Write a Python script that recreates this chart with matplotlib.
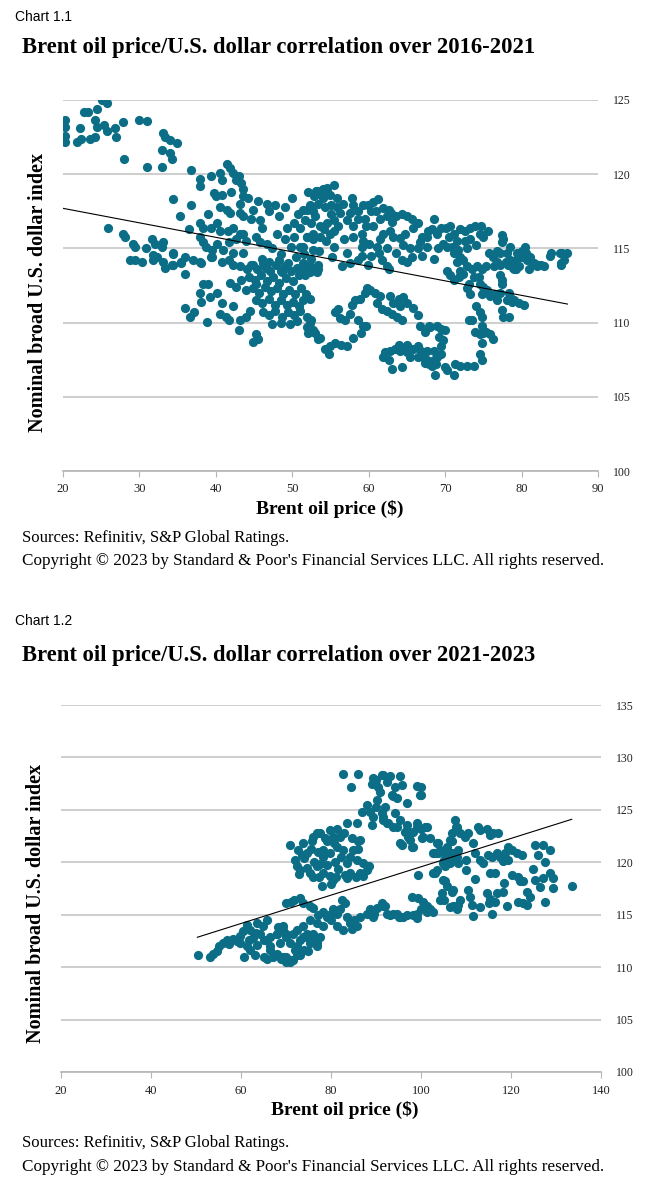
import matplotlib.pyplot as plt
import numpy as np

# ---- Chart 1.1 : Brent ($) vs nominal broad U.S. dollar index, 2016-2021 ----
c1_top_left = [(20.3, 123.65), (20.3, 123.2), (20.3, 122.6), (20.3, 122.2), (21.8, 122.2), (22.2, 123.1),
               (22.4, 122.4), (22.7, 124.2), (23.3, 124.2), (23.5, 122.4), (24.2, 122.5), (24.4, 124.4),
               (24.2, 123.65), (24.4, 123.2), (25.1, 125.0), (25.7, 124.8), (25.3, 123.3), (25.7, 122.9),
               (26.8, 123.1), (26.9, 122.5), (27.9, 123.5), (28.0, 121.0), (29.9, 123.65), (31.0, 123.6),
               (31.0, 120.5), (33.1, 122.75), (33.3, 122.5), (34.0, 122.3), (34.9, 122.1), (32.9, 121.6),
               (34.0, 121.4), (34.2, 121.0), (33.0, 120.5), (36.7, 120.3)]
c1_left_mid = [(25.9, 116.35), (27.9, 116.0), (28.1, 115.8), (29.2, 115.3), (29.4, 115.1), (28.8, 114.2),
               (29.4, 114.2), (30.3, 114.1), (31.6, 115.6), (32.0, 115.3), (33.1, 115.45), (33.0, 115.1),
               (31.8, 114.55), (32.3, 114.4), (33.1, 114.1), (33.3, 113.65), (34.4, 114.7), (35.5, 114.1),
               (35.9, 114.4), (37.0, 114.2), (37.9, 114.1), (34.4, 113.9), (36.0, 113.3), (34.4, 118.3),
               (36.7, 117.9), (35.3, 117.2), (36.5, 116.3), (31.8, 114.2), (34.2, 113.9), (35.5, 114.0),
               (38.1, 114.0), (39.4, 114.4), (34.4, 114.6), (30.8, 115.0)]
c1_upper_mid = [(37.9, 119.7), (37.9, 119.2), (39.4, 119.9), (40.5, 120.05), (41.4, 120.7), (41.85, 120.4),
                (42.2, 120.1), (42.7, 119.6), (43.0, 119.9), (43.3, 119.4), (43.5, 119.0), (39.7, 118.7),
                (40.8, 118.6), (40.75, 119.6), (40.5, 117.8), (41.4, 117.6), (41.85, 117.4), (43.2, 118.0),
                (44.2, 118.4), (43.2, 117.4), (43.5, 117.2), (44.9, 117.6), (45.8, 116.9), (46.65, 118.0),
                (47.7, 117.9), (47.0, 117.5), (49.05, 117.8), (37.9, 116.7), (38.3, 116.4), (39.4, 116.4),
                (40.1, 116.7), (40.5, 116.2), (41.6, 116.2), (42.2, 116.4), (43.2, 116.0), (42.7, 115.6),
                (43.5, 116.0), (45.3, 115.8), (45.8, 115.4), (46.65, 115.3), (47.3, 115.0), (40.0, 118.5),
                (42.0, 118.8), (43.5, 118.5), (44.6, 117.0), (45.5, 118.2), (48.2, 117.2), (46.0, 116.4),
                (44.0, 115.5), (48.0, 116.0), (39.0, 117.3)]
c1_lower_mid = [(37.9, 115.8), (38.3, 115.4), (38.75, 115.1), (39.5, 114.9), (40.2, 115.3), (41.0, 114.9),
                (41.7, 115.4), (42.2, 114.7), (43.5, 114.7), (39.5, 114.4), (40.8, 114.1), (41.7, 114.2),
                (42.2, 113.9), (43.2, 113.8), (44.1, 113.6), (44.9, 113.9), (46.2, 114.0), (46.6, 113.7),
                (36.0, 111.0), (36.6, 110.4), (37.2, 110.7), (38.8, 110.05), (37.9, 112.0), (39.0, 112.6),
                (39.2, 111.7), (40.2, 112.0), (40.5, 110.6), (41.3, 110.4), (41.7, 110.2), (41.85, 112.65),
                (42.3, 111.1), (43.2, 110.2), (43.0, 109.5), (44.0, 110.4), (44.5, 110.8), (45.3, 109.2),
                (45.5, 108.9), (44.9, 108.7), (44.0, 112.2), (45.3, 112.6), (38.3, 112.6), (38.0, 111.4),
                (40.8, 111.3), (43.3, 112.9), (42.6, 112.4)]
c1_core = [(44.6, 113.9), (45.4, 113.6), (46.3, 113.8), (47.1, 113.5), (47.9, 113.9), (48.6, 113.4),
           (44.3, 113.1), (45.1, 112.9), (45.9, 113.2), (46.7, 112.8), (47.5, 113.1), (48.3, 112.7),
           (49.2, 113.0), (50.1, 112.8), (50.9, 113.2), (44.9, 112.3), (45.6, 112.0), (46.4, 112.4),
           (47.2, 112.1), (48.0, 112.3), (48.8, 111.9), (49.6, 112.2), (50.4, 111.9), (51.2, 112.3),
           (51.8, 111.9), (45.3, 111.5), (46.1, 111.3), (46.9, 111.6), (47.7, 111.2), (48.5, 111.5),
           (49.3, 111.2), (50.1, 111.4), (50.9, 111.1), (46.2, 110.7), (47.0, 110.5), (47.8, 110.8),
           (48.6, 110.4), (49.4, 110.7), (50.2, 110.5), (51.0, 110.8), (47.4, 109.9), (48.5, 110.0),
           (49.7, 109.9), (50.6, 110.1), (46.0, 114.3), (47.0, 114.1), (48.2, 114.2), (49.0, 113.8),
           (49.8, 113.5), (50.6, 113.7), (51.4, 113.5), (52.2, 113.8)]
c1_centre = [(49.3, 116.4), (50.2, 116.7), (51.0, 116.4), (51.4, 117.6), (52.3, 117.9), (52.1, 118.8),
             (52.9, 118.5), (53.1, 118.9), (53.8, 118.7), (54.0, 119.0), (54.6, 118.8), (52.75, 116.0),
             (50.2, 115.8), (49.8, 115.1), (51.0, 115.1), (51.9, 115.8), (48.5, 114.6), (49.5, 114.0),
             (50.5, 114.4), (51.5, 114.6), (52.5, 114.3), (53.5, 114.8), (54.4, 115.5), (49.0, 115.6),
             (53.0, 117.2), (54.2, 116.3), (55.0, 117.3), (56.6, 118.0), (48.5, 113.5), (50.8, 117.3),
             (50.0, 118.4), (55.4, 116.2), (51.4, 114.0), (52.3, 113.4), (53.0, 113.7), (53.4, 113.6)]
c1_upper_band = [(53.2, 118.9), (54.5, 119.1), (55.4, 119.3), (54.9, 118.6), (54.0, 118.4), (53.0, 118.6),
                 (53.4, 118.0), (54.3, 117.8), (55.1, 117.9), (55.8, 118.4), (55.8, 117.8), (51.9, 117.6),
                 (52.75, 117.5), (51.7, 116.9), (52.5, 116.7), (53.6, 116.5), (54.5, 116.7), (55.4, 116.9),
                 (56.2, 117.4), (56.0, 116.5), (54.9, 116.0), (53.6, 115.8), (52.75, 115.6), (51.9, 115.8),
                 (51.4, 115.1), (52.75, 114.9), (53.4, 113.9), (52.3, 113.8), (51.7, 113.2), (53.2, 113.4),
                 (55.4, 115.1), (55.2, 114.4), (57.1, 114.7), (57.75, 118.4), (58.0, 117.9), (58.6, 117.5),
                 (59.3, 117.9), (59.9, 117.9), (60.6, 118.15), (61.2, 118.3), (60.3, 117.5), (60.9, 117.5),
                 (57.55, 117.4), (57.1, 116.9), (58.0, 116.5), (58.6, 117.0), (59.5, 117.0), (59.7, 116.5),
                 (59.1, 116.0), (58.0, 115.8), (59.3, 115.5), (60.6, 116.5), (61.5, 117.0), (61.9, 117.7),
                 (62.6, 117.6), (62.4, 117.2), (62.95, 117.4), (63.6, 117.2), (64.3, 117.3), (65.0, 117.2),
                 (65.6, 117.0), (66.45, 116.7), (65.8, 116.4), (66.95, 115.8), (66.7, 115.4), (66.45, 115.0),
                 (65.4, 115.0), (64.5, 115.2), (64.1, 115.7), (63.2, 115.8), (62.8, 116.2), (61.9, 116.0),
                 (61.5, 115.6), (61.1, 115.1), (61.3, 114.7), (61.75, 114.2), (62.35, 113.8), (62.6, 113.6),
                 (60.3, 114.5), (59.9, 113.9), (59.1, 114.5), (58.6, 114.2), (59.1, 115.1), (62.4, 115.0),
                 (63.6, 114.7), (64.3, 114.2), (65.0, 114.1), (65.6, 114.4), (67.0, 114.5), (67.6, 115.1),
                 (67.6, 115.8), (67.8, 116.2), (68.3, 116.3), (68.5, 117.0), (69.0, 116.0), (69.5, 116.4),
                 (70.1, 116.4), (70.7, 116.5), (71.2, 116.0), (70.5, 115.8), (69.75, 115.3), (69.1, 115.0),
                 (68.5, 114.3), (70.2, 115.1), (70.85, 115.1), (71.5, 115.5), (71.9, 116.3), (72.6, 116.2),
                 (73.3, 116.4), (73.9, 116.5), (74.75, 116.5), (75.6, 116.2), (74.5, 116.0), (75.0, 115.8),
                 (74.1, 115.2), (73.3, 115.6), (72.6, 115.5), (71.7, 114.9), (71.1, 114.7), (72.0, 114.4),
                 (71.5, 114.1), (72.4, 114.2), (72.8, 115.0), (56.8, 115.6), (57.6, 114.0), (63.0, 116.8),
                 (64.8, 116.0), (60.0, 115.3), (56.5, 113.8)]
c1_right = [(75.7, 114.7), (76.2, 114.4), (76.8, 114.8), (77.2, 114.7), (77.4, 115.9), (77.6, 115.6),
            (77.4, 115.4), (78.1, 114.7), (78.5, 115.1), (77.9, 114.1), (77.2, 113.9), (78.25, 113.9),
            (78.9, 113.7), (79.3, 114.2), (80.0, 114.4), (80.4, 115.1), (80.6, 114.7), (81.1, 114.2),
            (81.6, 114.0), (82.0, 113.8), (82.5, 113.9), (82.9, 113.8), (81.0, 113.6), (79.3, 113.6),
            (83.9, 114.7), (85.0, 114.7), (85.9, 114.7), (85.2, 114.0), (70.2, 113.5), (70.6, 113.2),
            (71.1, 112.9), (71.8, 113.1), (72.0, 113.5), (72.4, 113.3), (72.8, 113.8), (73.5, 113.6),
            (74.2, 113.8), (73.75, 113.1), (74.4, 113.1), (74.8, 113.6), (75.4, 113.8), (74.6, 112.6),
            (75.0, 112.4), (75.5, 112.2), (74.8, 111.9), (75.9, 111.8), (76.4, 111.9), (76.8, 111.5),
            (77.2, 113.2), (77.4, 112.9), (77.4, 112.6), (77.2, 112.0), (76.4, 113.8), (76.8, 114.1),
            (78.1, 114.0), (78.5, 114.2), (78.3, 112.0), (78.5, 111.7), (79.0, 111.5), (78.1, 111.5),
            (78.7, 111.4), (77.4, 110.85), (77.6, 110.4), (78.3, 110.4), (79.7, 111.3), (80.3, 111.2),
            (79.0, 113.6), (79.7, 113.8), (79.4, 114.7), (80.1, 114.8), (80.7, 114.2), (81.1, 114.4),
            (82.2, 113.9), (83.7, 114.5), (85.3, 114.7), (85.5, 114.25), (85.1, 113.9)]
c1_lower = [(51.4, 111.5), (51.9, 110.4), (52.3, 110.0), (52.75, 109.5), (53.4, 108.9), (52.3, 111.6),
            (52.1, 109.3), (51.9, 109.7), (52.4, 110.2), (53.0, 109.3), (53.6, 108.95), (54.3, 108.2),
            (54.8, 107.9), (55.6, 110.7), (56.2, 110.3), (56.9, 110.2), (57.55, 110.6), (57.8, 111.2),
            (58.2, 111.5), (58.8, 111.6), (58.6, 110.2), (59.3, 109.8), (59.7, 109.8), (59.0, 109.3),
            (58.0, 108.95), (57.1, 108.4), (56.4, 108.5), (55.6, 108.6), (54.9, 108.4), (54.5, 108.2),
            (59.5, 112.0), (59.8, 112.3), (56.0, 110.9), (60.2, 112.2), (60.8, 112.0), (61.5, 111.8),
            (61.1, 111.3), (61.75, 110.9), (62.4, 110.8), (63.0, 110.6), (63.7, 110.4), (62.8, 111.8),
            (63.2, 111.3), (63.9, 111.6), (64.5, 111.75), (64.95, 111.3), (64.1, 111.1), (64.3, 110.2),
            (65.8, 111.0), (66.45, 110.5), (66.7, 109.8), (67.4, 109.4), (67.9, 109.8), (68.0, 109.7),
            (68.9, 109.8), (69.4, 109.6), (70.0, 109.5), (69.2, 109.0), (69.7, 108.8), (62.1, 108.0),
            (61.9, 107.7), (62.6, 107.5), (63.0, 106.9), (64.3, 107.0), (62.8, 108.1), (63.4, 108.2),
            (63.9, 108.5), (64.1, 108.1), (64.5, 108.3), (65.0, 108.5), (64.95, 108.0), (65.4, 107.7),
            (65.8, 108.2), (66.4, 108.4), (66.8, 108.1), (66.5, 107.7), (67.1, 107.7), (67.6, 107.5),
            (67.4, 107.3), (67.9, 107.2), (68.3, 107.1), (68.8, 107.2), (68.6, 107.5), (69.0, 107.7),
            (69.5, 107.9), (68.5, 108.1), (67.6, 108.1), (69.5, 108.4), (68.7, 106.5), (70.0, 107.0),
            (70.2, 106.8), (71.1, 106.5), (71.3, 107.2), (72.0, 107.1), (72.9, 107.1), (73.75, 107.1),
            (74.8, 107.5), (74.6, 107.9), (74.8, 108.6), (74.6, 109.2), (73.9, 109.4), (74.9, 109.3),
            (75.4, 109.4), (75.9, 109.2), (76.2, 108.9), (74.8, 109.8), (74.8, 110.4), (74.6, 110.7),
            (74.1, 111.1), (73.5, 110.2), (73.1, 110.2), (73.3, 111.9), (72.9, 112.3), (73.1, 112.6)]
c1_trend_x = [20, 86]
c1_trend_y = [117.7, 111.25]

# ---- Chart 1.2 : 2021-2023 ----
c2_low = [(50.4, 111.2), (53.2, 111.0), (53.8, 111.3), (54.6, 111.5), (55.2, 112.0), (56.0, 112.3),
          (56.8, 112.6), (57.4, 112.2), (58.2, 112.7), (59.0, 112.5), (59.8, 113.0), (60.5, 113.4),
          (61.3, 114.0), (62.0, 113.5), (63.5, 114.2), (63.4, 113.3), (64.2, 113.2), (65.7, 114.5),
          (65.3, 112.6), (66.4, 112.0), (65.0, 111.0), (67.2, 111.0), (67.9, 113.2), (68.3, 113.8),
          (69.4, 113.9), (69.9, 113.2), (70.9, 112.3), (70.1, 111.0), (70.9, 110.5), (71.5, 110.7),
          (73.1, 111.2), (73.9, 111.6), (72.4, 112.0), (73.8, 112.9), (74.7, 113.2), (76.1, 112.6),
          (76.8, 112.3), (77.6, 112.9), (78.3, 113.9), (59.8, 112.3), (61.3, 112.0), (62.0, 111.6),
          (63.5, 112.1), (65.0, 112.6), (66.4, 112.9), (66.4, 111.6), (65.7, 110.8), (67.9, 111.3),
          (69.4, 111.0), (70.1, 110.5), (71.3, 110.7), (72.4, 111.2), (68.7, 112.3), (70.1, 112.9),
          (71.6, 113.2), (73.1, 112.6), (74.6, 112.9), (76.1, 113.2), (75.3, 112.3), (76.8, 112.0),
          (73.8, 113.9), (72.4, 113.55), (75.3, 114.5), (76.8, 114.2), (69.4, 113.55), (67.9, 113.2),
          (64.9, 113.9), (62.6, 112.8), (68.9, 110.8), (71.9, 111.6), (74.8, 111.5), (63.0, 111.2),
          (60.6, 111.0), (61.8, 112.6)]
c2_rise = [(70.1, 116.1), (71.2, 116.25), (73.1, 116.6), (73.8, 116.1), (75.3, 115.8), (76.1, 115.6),
           (78.3, 115.3), (79.0, 114.8), (80.5, 115.5), (81.3, 115.1), (82.4, 116.4), (83.1, 116.1),
           (82.0, 115.5), (83.5, 114.8), (84.2, 114.2), (85.7, 113.9), (82.7, 113.55), (81.3, 113.9),
           (86.4, 114.8), (87.9, 115.1), (89.4, 114.8), (90.2, 115.6), (91.3, 116.1), (92.0, 115.8),
           (92.4, 115.1), (93.1, 115.0), (88.7, 115.5), (89.5, 115.1), (91.6, 115.8), (95.0, 114.8),
           (94.6, 115.1), (96.1, 114.8), (98.3, 115.0), (99.0, 115.1), (95.3, 114.8), (96.8, 115.0),
           (99.0, 114.7), (93.85, 115.1), (85.0, 114.5), (80.0, 114.5), (84.6, 113.6), (71.8, 116.4),
           (79.6, 115.0), (77.2, 115.0)]
c2_cluster = [(70.9, 121.65), (72.0, 120.2), (72.7, 121.2), (73.8, 121.8), (74.6, 120.9), (76.1, 122.4),
              (76.8, 122.8), (77.6, 122.8), (79.8, 123.1), (80.5, 122.4), (82.0, 122.4), (83.5, 123.7),
              (85.7, 123.7), (86.1, 122.0), (72.4, 119.6), (73.1, 119.3), (75.3, 119.0), (76.8, 119.6),
              (78.3, 119.0), (80.5, 118.3), (81.1, 118.6), (84.2, 119.0), (85.6, 118.6), (87.9, 119.3),
              (78.3, 121.2), (79.8, 120.9), (81.3, 121.5), (82.7, 121.2), (84.2, 120.5), (85.7, 120.2),
              (87.2, 119.9), (83.5, 119.9), (78.3, 120.5), (74.0, 120.4), (75.5, 121.3), (77.0, 121.0),
              (76.2, 120.0), (79.0, 119.7), (80.8, 120.0), (82.3, 120.5), (81.5, 119.4), (83.0, 118.8),
              (77.6, 119.8), (73.5, 120.7), (75.8, 122.0), (79.2, 122.0), (84.8, 121.2), (86.5, 119.0),
              (88.5, 119.6), (82.9, 122.8), (80.6, 121.8), (77.3, 118.6), (79.8, 118.7), (74.6, 119.5),
              (72.8, 118.9), (86.0, 121.3), (84.6, 122.3), (81.4, 123.2), (78.6, 122.3), (76.0, 118.6),
              (80.0, 117.9), (78.0, 117.7), (83.5, 118.5), (87.0, 118.7)]
c2_peak = [(82.6, 128.4), (86.1, 128.4), (84.4, 127.2), (89.4, 128.0), (91.3, 128.3), (93.1, 128.2),
           (95.3, 128.2), (95.7, 127.4), (94.2, 127.2), (92.4, 127.7), (90.5, 127.2), (89.2, 127.5),
           (90.9, 126.7), (93.5, 126.4), (94.6, 126.1), (99.0, 127.3), (100.0, 127.2), (100.0, 126.4),
           (96.8, 125.7), (90.2, 125.9), (89.9, 125.3), (88.7, 124.8), (86.8, 124.8), (89.4, 124.35),
           (91.3, 124.7), (91.6, 124.0), (92.7, 123.7), (93.85, 123.4), (94.2, 124.7), (95.3, 124.0),
           (96.8, 123.6), (96.4, 122.9), (97.2, 122.4), (98.3, 122.9), (99.0, 123.4), (100.9, 123.4),
           (100.2, 122.3), (102.0, 122.3), (95.7, 121.65), (97.9, 121.5), (86.4, 122.1), (91.6, 128.3),
           (93.85, 126.3), (99.8, 126.4), (91.6, 124.35), (92.4, 123.7), (94.6, 123.4), (95.3, 121.8),
           (96.8, 123.1), (97.6, 122.1), (98.3, 121.5), (99.0, 123.7), (100.1, 123.2), (101.3, 123.4),
           (100.5, 122.4), (88.0, 125.5), (92.0, 125.3), (89.0, 123.6), (90.0, 127.8)]
c2_right = [(103.85, 121.8), (102.7, 120.85), (103.85, 120.85), (103.1, 119.0), (104.96, 119.9),
            (105.3, 120.85), (105.7, 121.5), (106.4, 122.1), (106.8, 122.8), (107.6, 124.0), (108.0, 123.4),
            (108.7, 122.8), (109.8, 122.4), (110.5, 122.8), (106.8, 120.85), (108.0, 120.5), (106.4, 119.9),
            (104.96, 118.3), (108.3, 121.2), (110.1, 120.2), (111.6, 121.8), (112.6, 123.4), (113.1, 123.1),
            (114.6, 123.2), (115.3, 122.6), (116.1, 122.8), (117.2, 122.8), (112.0, 120.85), (113.1, 120.2),
            (113.85, 119.9), (114.96, 120.7), (115.7, 120.5), (116.8, 120.85), (117.6, 120.5), (118.7, 120.85),
            (119.4, 121.5), (120.2, 121.2), (121.3, 120.85), (122.4, 120.7), (119.4, 120.2), (118.3, 120.1),
            (115.3, 119.0), (116.4, 119.0), (120.2, 118.8), (121.6, 118.6), (122.0, 118.2), (122.7, 118.2),
            (125.3, 121.65), (127.2, 121.65), (126.1, 120.7), (128.7, 121.2), (127.6, 120.0), (128.7, 119.0),
            (129.4, 118.5), (125.3, 118.3), (127.2, 118.5), (133.5, 117.75), (129.3, 117.5), (103.5, 121.8),
            (104.2, 121.2), (103.1, 120.9), (106.8, 122.0), (107.8, 123.4), (105.7, 120.5), (105.0, 120.2),
            (103.5, 119.3), (102.7, 119.0), (105.3, 119.6), (107.2, 120.2), (108.3, 119.9), (99.4, 118.8),
            (105.3, 118.2), (105.7, 117.7), (104.6, 117.05), (105.0, 116.4), (107.2, 117.4), (107.2, 115.8),
            (108.3, 115.9), (97.9, 116.7), (99.4, 116.6), (100.5, 116.2), (101.3, 115.8), (102.7, 115.3),
            (101.3, 115.3), (104.2, 116.4), (106.8, 117.2), (106.4, 115.7), (108.0, 115.5), (108.7, 116.4),
            (110.5, 117.4), (110.9, 116.7), (111.3, 115.9), (113.1, 115.7), (114.6, 117.05), (115.3, 116.5),
            (115.0, 116.1), (115.7, 115.1), (116.8, 117.05), (118.3, 117.2), (119.0, 115.8), (121.6, 116.25),
            (122.7, 116.1), (123.5, 115.9), (124.2, 116.7), (127.6, 116.2), (100.1, 115.5), (102.0, 115.5),
            (123.5, 117.2), (126.5, 117.6), (124.8, 119.4), (118.5, 118.0), (112.0, 118.4),
            (110.0, 119.3), (111.5, 114.9), (116.5, 116.2)]
c2_trend_x = [50.3, 133.5]
c2_trend_y = [112.85, 124.1]

DOT = "#0b6e86"
SERIF = ["Liberation Serif", "DejaVu Serif"]
W, H = 660, 1198

fig = plt.figure(figsize=(W / 100, H / 100), dpi=100)
fig.patch.set_facecolor("white")


def px(x, y):
    return x / W, 1 - y / H


def panel(rect, groups, tx, ty, xlim, xstep, ylim, ystep, ylab_y):
    ax = fig.add_axes(rect)
    pts = np.array([p for g in groups for p in g])
    ax.scatter(pts[:, 0], pts[:, 1], s=44, color=DOT, linewidths=0, zorder=3)
    ax.plot(tx, ty, color="black", lw=0.8, zorder=4)
    ax.set_xlim(*xlim)
    ax.set_ylim(*ylim)
    ax.set_xticks(np.arange(xlim[0], xlim[1] + 1, xstep))
    ax.set_yticks(np.arange(ylim[0], ylim[1] + 1, ystep))
    ax.yaxis.tick_right()
    ax.grid(axis="y", color="#c6c6c6", lw=1.2)
    ax.set_axisbelow(True)
    for s in ("top", "left", "right"):
        ax.spines[s].set_visible(False)
    ax.spines["bottom"].set_color("#b5b5b5")
    ax.spines["bottom"].set_linewidth(1.2)
    ax.tick_params(axis="y", length=0, pad=11, labelsize=8.5, labelcolor="#222222")
    ax.tick_params(axis="x", length=4, color="#b5b5b5", pad=5, labelsize=9, labelcolor="#222222")
    for lab in ax.get_xticklabels() + ax.get_yticklabels():
        lab.set_family(SERIF)
    ax.yaxis.set_label_position("left")
    ax.set_ylabel("Nominal broad U.S. dollar index", family=SERIF, fontweight="bold", fontsize=14.5)
    ax.yaxis.set_label_coords(-15 / (rect[2] * W), ylab_y)
    return ax


# chart 1.1
panel([63 / W, 1 - 471 / H, 535 / W, 371 / H],
      [c1_top_left, c1_left_mid, c1_upper_mid, c1_lower_mid, c1_core, c1_centre,
       c1_upper_band, c1_right, c1_lower],
      c1_trend_x, c1_trend_y, (20, 90), 10, (100, 125), 5, 0.48)

# chart 1.2
panel([61 / W, 1 - 1072 / H, 540 / W, 367 / H],
      [c2_low, c2_rise, c2_cluster, c2_peak, c2_right],
      c2_trend_x, c2_trend_y, (20, 140), 20, (100, 135), 5, 0.46)

notes = [("Chart 1.1", "Brent oil price/U.S. dollar correlation over 2016-2021", 17, 47, 509, 538, 561, 330),
         ("Chart 1.2", "Brent oil price/U.S. dollar correlation over 2021-2023", 621, 656, 1110, 1143, 1167, 345)]
for label, title, y_lab, y_title, y_x, y_src, y_copy, x_mid in notes:
    fig.text(*px(15, y_lab), label, family=["Liberation Sans", "DejaVu Sans"], fontsize=10, va="center")
    fig.text(*px(22, y_title), title, family=SERIF, fontweight="bold", fontsize=16.3, va="center")
    fig.text(*px(x_mid, y_x), "Brent oil price ($)", family=SERIF, fontweight="bold", fontsize=14,
             ha="center", va="center")
    fig.text(*px(22, y_src), "Sources: Refinitiv, S&P Global Ratings.", family=SERIF, fontsize=12,
             va="center")
    fig.text(*px(22, y_copy),
             "Copyright \u00a9 2023 by Standard & Poor's Financial Services LLC. All rights reserved.",
             family=SERIF, fontsize=12.3, va="center")

fig.savefig("out.png", dpi=100)
